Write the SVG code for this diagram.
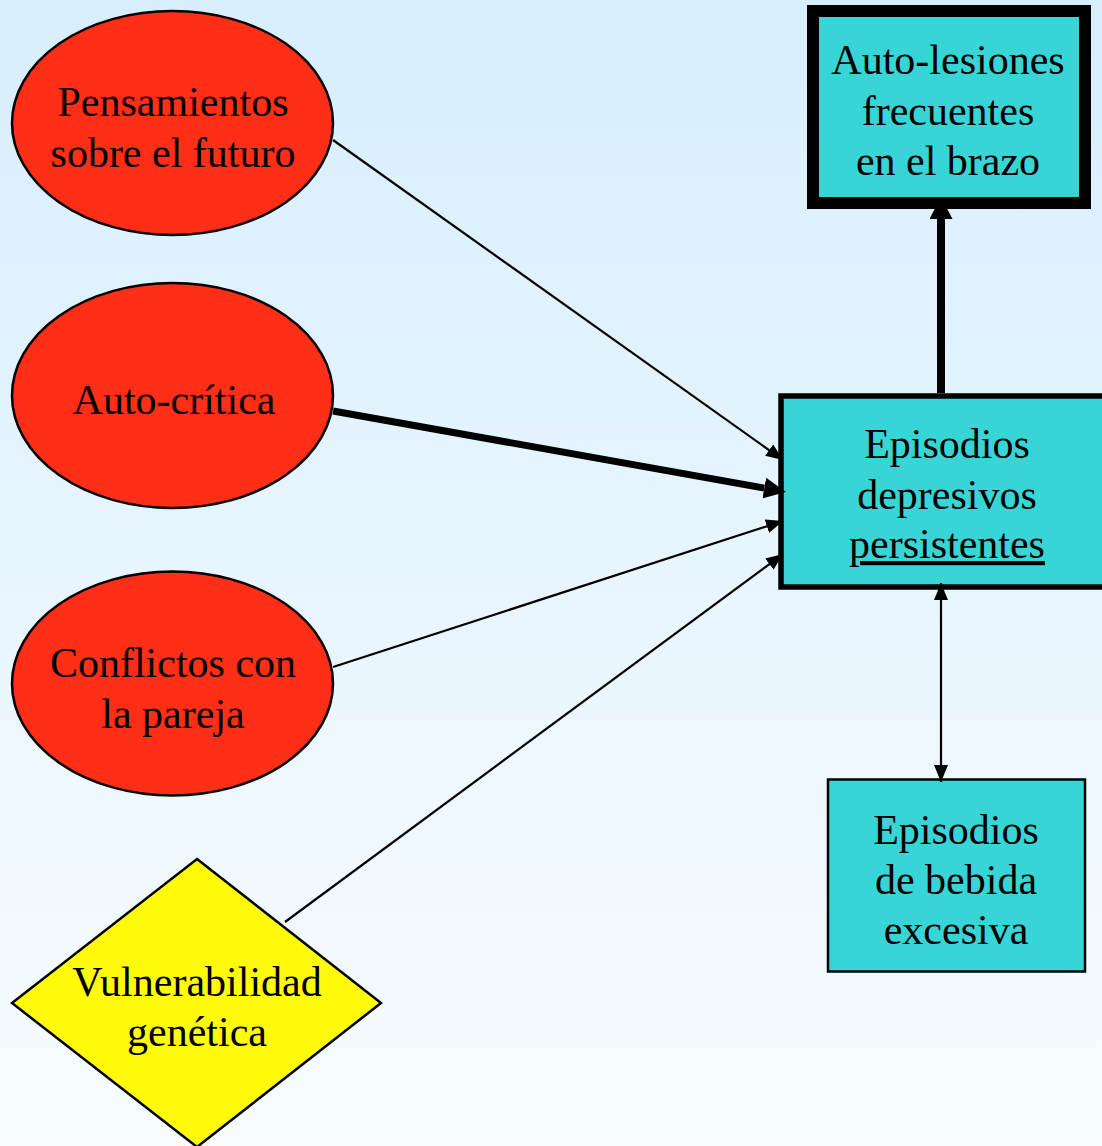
<svg xmlns="http://www.w3.org/2000/svg" width="1102" height="1146" viewBox="0 0 1102 1146">
  <defs>
    <linearGradient id="bg" x1="0" y1="0" x2="0" y2="1">
      <stop offset="0" stop-color="#D7EEFD"/>
      <stop offset="1" stop-color="#F8FCFF"/>
    </linearGradient>
    <marker id="arr" markerUnits="userSpaceOnUse" viewBox="0 0 17 14" markerWidth="17" markerHeight="14" refX="17" refY="7" orient="auto-start-reverse">
      <path d="M0,0 L17,7 L0,14 z" fill="#000"/>
    </marker>
    <marker id="arrThick" markerUnits="userSpaceOnUse" viewBox="0 0 22 21" markerWidth="22" markerHeight="21" refX="0" refY="10.5" orient="auto">
      <path d="M0,0 L22,10.5 L0,21 z" fill="#000"/>
    </marker>
    <marker id="arrUp" markerUnits="userSpaceOnUse" viewBox="0 0 22 23" markerWidth="22" markerHeight="23" refX="0" refY="11.5" orient="auto">
      <path d="M0,0 L22,11.5 L0,23 z" fill="#000"/>
    </marker>
  </defs>
  <style>
    text { font-family: "Liberation Serif", "Times New Roman", serif; font-size: 42px; fill: #000; text-anchor: middle; }
    .red { fill: #FF2E17; stroke: #000; stroke-width: 2.5; }
    .cyan { fill: #38D5D6; stroke: #000; }
    .yellow { fill: #FFFA0A; stroke: #000; stroke-width: 2.5; }
    .conn { stroke: #000; fill: none; }
  </style>
  <rect x="0" y="0" width="1102" height="1146" fill="url(#bg)"/>

  <g id="node-pensamientos">
    <ellipse class="red" cx="172.5" cy="123" rx="160.5" ry="112"/>
    <text x="173" y="115.5">Pensamientos</text>
    <text x="173" y="166.5">sobre el futuro</text>
  </g>
  <g id="node-autocritica">
    <ellipse class="red" cx="172.5" cy="395.5" rx="160.5" ry="112.5"/>
    <text x="174" y="413.5">Auto-crítica</text>
  </g>
  <g id="node-conflictos">
    <ellipse class="red" cx="172.5" cy="683.5" rx="160.5" ry="112"/>
    <text x="173" y="676.5">Conflictos con</text>
    <text x="173" y="727.5">la pareja</text>
  </g>
  <g id="node-vulnerabilidad">
    <polygon class="yellow" points="197,859 381,1003 197,1147 12,1003"/>
    <text x="197" y="995.5">Vulnerabilidad</text>
    <text x="197" y="1045.5">genética</text>
  </g>
  <g id="node-episodios-depresivos">
    <rect class="cyan" x="781" y="396" width="330" height="191" stroke-width="5.5"/>
    <text x="947" y="457.5">Episodios</text>
    <text x="947" y="508.5">depresivos</text>
    <text x="947" y="558" text-decoration="underline">persistentes</text>
  </g>
  <g id="node-autolesiones">
    <rect class="cyan" x="813" y="11" width="272" height="192" stroke-width="12"/>
    <text x="948" y="73.5">Auto-lesiones</text>
    <text x="948" y="124.5">frecuentes</text>
    <text x="948" y="174.5">en el brazo</text>
  </g>
  <g id="node-bebida">
    <rect class="cyan" x="828" y="779.5" width="257" height="192" stroke-width="2.5"/>
    <text x="956" y="843.5">Episodios</text>
    <text x="956" y="893.5">de bebida</text>
    <text x="956" y="943.5">excesiva</text>
  </g>

  <g id="connectors">
    <line class="conn" x1="333" y1="140" x2="783" y2="460" stroke-width="2.2" marker-end="url(#arr)"/>
    <line class="conn" x1="333" y1="411" x2="764.3" y2="488.1" stroke-width="7" marker-end="url(#arrThick)"/>
    <line class="conn" x1="333" y1="667" x2="783" y2="521" stroke-width="2.2" marker-end="url(#arr)"/>
    <line class="conn" x1="285" y1="922" x2="783" y2="554" stroke-width="2.2" marker-end="url(#arr)"/>
    <line class="conn" x1="941" y1="393" x2="941" y2="219" stroke-width="8" marker-end="url(#arrUp)"/>
    <line class="conn" x1="941" y1="583" x2="941" y2="782" stroke-width="2.2" marker-start="url(#arr)" marker-end="url(#arr)"/>
  </g>
</svg>
